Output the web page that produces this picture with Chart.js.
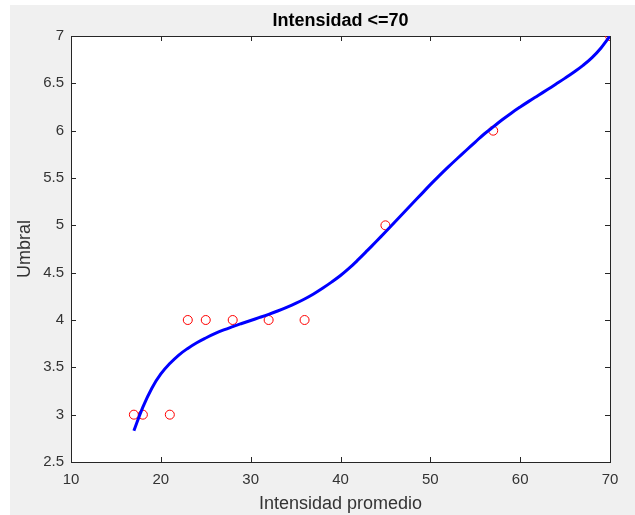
<!DOCTYPE html>
<html>
<head>
<meta charset="utf-8">
<script src="https://cdn.jsdelivr.net/npm/chart.js@4"></script>
<style>
  html, body { margin: 0; padding: 0; background: #ffffff; }
  #wrap { position: absolute; left: 10px; top: 5px; width: 625px; height: 510px; background: #f0f0f0; }
</style>
</head>
<body>
<div id="wrap"><canvas id="plot" width="625" height="510"></canvas></div>
<script>
// measured points (red circles)
const markerX = [17, 18, 21, 23, 25, 28, 32, 36, 45, 57, 70];
const markerY = [3, 3, 3, 4, 4, 4, 4, 4, 5, 6, 7];

// fitted curve (blue line)
const fitX = [17, 18, 19, 20, 21, 22, 23, 24, 25, 26, 27, 28, 29, 30, 31, 32, 33, 34, 35, 36,
              37, 38, 39, 40, 41, 42, 43, 44, 45, 46, 47, 48, 49, 50, 51, 52, 53, 54, 55, 56,
              57, 58, 59, 60, 61, 62, 63, 64, 65, 66, 67, 68, 69, 70];
const fitY = [2.83, 3.08, 3.28, 3.43, 3.54, 3.63, 3.70, 3.76, 3.81, 3.855, 3.895, 3.93, 3.963, 3.995, 4.027, 4.06, 4.095, 4.133, 4.175, 4.222,
              4.275, 4.335, 4.40, 4.47, 4.55, 4.64, 4.735, 4.832, 4.93, 5.03, 5.13, 5.23, 5.33, 5.43, 5.525, 5.617, 5.706, 5.793, 5.88, 5.965,
              6.04, 6.115, 6.185, 6.25, 6.312, 6.372, 6.432, 6.493, 6.555, 6.62, 6.69, 6.772, 6.874, 7.0];

// axis ticks
const xTicks = [10, 20, 30, 40, 50, 60, 70];
const yTicks = [2.5, 3, 3.5, 4, 4.5, 5, 5.5, 6, 6.5, 7];

const titleText = 'Intensidad <=70';
const axisColor = '#262626';
const fontFamily = '"Liberation Sans", Arial, Helvetica, sans-serif';

// white plot area, title over the plot area, and a MATLAB style box with inward ticks
const boxPlugin = {
    id: 'box',
    beforeDraw(chart) {
        const a = chart.chartArea;
        const c = chart.ctx;
        c.save();
        c.fillStyle = '#ffffff';
        c.fillRect(a.left, a.top, a.right - a.left, a.bottom - a.top);
        c.fillStyle = '#000000';
        c.font = 'bold 18px ' + fontFamily;
        c.textAlign = 'center';
        c.textBaseline = 'middle';
        c.fillText(titleText, (a.left + a.right) / 2, a.top - 15);
        c.restore();
    },
    beforeDatasetsDraw(chart) {
        const a = chart.chartArea;
        const c = chart.ctx;
        const sx = chart.scales.x;
        const sy = chart.scales.y;
        const len = 5;
        c.save();
        c.strokeStyle = axisColor;
        c.lineWidth = 1;
        c.beginPath();
        xTicks.forEach(function (v) {
            const px = Math.round(sx.getPixelForValue(v)) + 0.5;
            c.moveTo(px, a.bottom);
            c.lineTo(px, a.bottom - len);
            c.moveTo(px, a.top);
            c.lineTo(px, a.top + len);
        });
        yTicks.forEach(function (v) {
            const py = Math.round(sy.getPixelForValue(v)) + 0.5;
            c.moveTo(a.left, py);
            c.lineTo(a.left + len, py);
            c.moveTo(a.right, py);
            c.lineTo(a.right - len, py);
        });
        c.stroke();
        c.strokeRect(Math.round(a.left) + 0.5, Math.round(a.top) + 0.5,
                     Math.round(a.right - a.left), Math.round(a.bottom - a.top));
        c.restore();
    }
};

const ctx = document.getElementById('plot').getContext('2d');

new Chart(ctx, {
    type: 'scatter',
    data: {
        datasets: [{
            label: 'ajuste',
            data: fitX.map(function (x, i) { return { x: x, y: fitY[i] }; }),
            showLine: true,
            borderColor: '#0000ff',
            borderWidth: 3,
            pointRadius: 0,
            tension: 0.4,
            fill: false
        }, {
            label: 'datos',
            data: markerX.map(function (x, i) { return { x: x, y: markerY[i] }; }),
            showLine: false,
            pointStyle: 'circle',
            pointRadius: 4.5,
            pointBorderWidth: 1,
            pointBorderColor: '#ff0000',
            pointBackgroundColor: 'rgba(0,0,0,0)'
        }]
    },
    options: {
        responsive: false,
        animation: false,
        devicePixelRatio: 1,
        layout: { padding: { left: 0, right: 25, top: 31, bottom: 0 } },
        plugins: {
            legend: { display: false },
            tooltip: { enabled: false },
            title: { display: false }
        },
        scales: {
            x: {
                type: 'linear',
                min: 10,
                max: 70,
                afterBuildTicks: function (s) { s.ticks = xTicks.map(function (v) { return { value: v }; }); },
                afterFit: function (s) { s.height = 53; },
                grid: { display: false, drawTicks: false },
                border: { display: false },
                ticks: {
                    color: '#333333',
                    padding: 9,
                    maxRotation: 0,
                    font: { family: fontFamily, size: 15 },
                    callback: function (v) { return String(v); }
                },
                title: {
                    display: true,
                    text: 'Intensidad promedio',
                    color: '#333333',
                    font: { family: fontFamily, size: 18 },
                    padding: { top: 0, bottom: 0 }
                }
            },
            y: {
                type: 'linear',
                min: 2.5,
                max: 7,
                afterBuildTicks: function (s) { s.ticks = yTicks.map(function (v) { return { value: v }; }); },
                afterFit: function (s) { s.width = 61; },
                grid: { display: false, drawTicks: false },
                border: { display: false },
                ticks: {
                    color: '#333333',
                    padding: 7,
                    font: { family: fontFamily, size: 15 },
                    callback: function (v) { return String(v); }
                },
                title: {
                    display: true,
                    text: 'Umbral',
                    color: '#333333',
                    font: { family: fontFamily, size: 18 },
                    padding: { top: 4, bottom: 0 }
                }
            }
        }
    },
    plugins: [boxPlugin]
});
</script>
</body>
</html>
